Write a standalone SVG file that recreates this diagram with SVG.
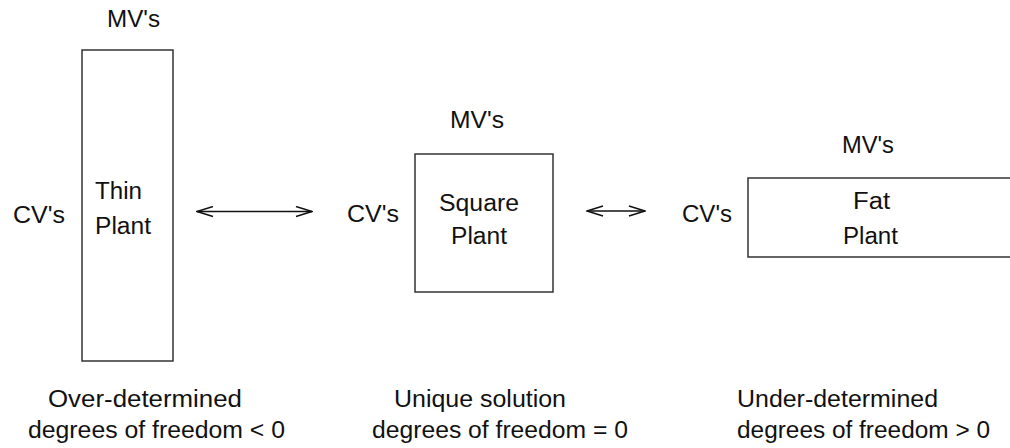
<svg xmlns="http://www.w3.org/2000/svg" width="1010" height="448" viewBox="0 0 1010 448">
<defs>
<style>
text{font-family:"Liberation Sans",Arial,sans-serif;font-size:23px;fill:#111}
.box{fill:#fff;stroke:#333;stroke-width:1.5}
.conn{stroke:#111;stroke-width:1.4;fill:none}
</style>
<marker id="ah" viewBox="0 0 18 12" refX="17" refY="6" markerWidth="18" markerHeight="12" markerUnits="userSpaceOnUse" orient="auto-start-reverse">
<path d="M1,1 L17,6 L1,11" fill="none" stroke="#111" stroke-width="1.5"/>
</marker>
</defs>
<rect width="1010" height="448" fill="#fff"/>
<g id="thin-plant">
<rect class="box" x="82" y="50" width="91" height="311"/>
<text x="107" y="27" textLength="53" lengthAdjust="spacingAndGlyphs">MV's</text>
<text x="13" y="223" textLength="52" lengthAdjust="spacingAndGlyphs">CV's</text>
<text x="95" y="199" textLength="47" lengthAdjust="spacingAndGlyphs">Thin</text>
<text x="95" y="234" textLength="56" lengthAdjust="spacingAndGlyphs">Plant</text>
</g>
<g id="square-plant">
<rect class="box" x="415" y="154" width="138" height="138"/>
<text x="450" y="128" textLength="54" lengthAdjust="spacingAndGlyphs">MV's</text>
<text x="347" y="222" textLength="52" lengthAdjust="spacingAndGlyphs">CV's</text>
<text x="439" y="211" textLength="80" lengthAdjust="spacingAndGlyphs">Square</text>
<text x="451" y="244" textLength="56" lengthAdjust="spacingAndGlyphs">Plant</text>
</g>
<g id="fat-plant">
<path class="box" d="M1012,178 H748 V257 H1012"/>
<text x="842" y="153" textLength="52" lengthAdjust="spacingAndGlyphs">MV's</text>
<text x="682" y="222" textLength="50" lengthAdjust="spacingAndGlyphs">CV's</text>
<text x="853" y="209" textLength="37" lengthAdjust="spacingAndGlyphs">Fat</text>
<text x="843" y="244" textLength="55" lengthAdjust="spacingAndGlyphs">Plant</text>
</g>
<g id="connectors">
<line class="conn" x1="197" y1="211.5" x2="312" y2="211.5" marker-start="url(#ah)" marker-end="url(#ah)"/>
<line class="conn" x1="587" y1="211" x2="645" y2="211" marker-start="url(#ah)" marker-end="url(#ah)"/>
</g>
<g id="captions">
<text x="48" y="407" textLength="194" lengthAdjust="spacingAndGlyphs">Over-determined</text>
<text x="28" y="438" textLength="257" lengthAdjust="spacingAndGlyphs">degrees of freedom &lt; 0</text>
<text x="394" y="407" textLength="172" lengthAdjust="spacingAndGlyphs">Unique solution</text>
<text x="372" y="438" textLength="256" lengthAdjust="spacingAndGlyphs">degrees of freedom = 0</text>
<text x="737" y="407" textLength="201" lengthAdjust="spacingAndGlyphs">Under-determined</text>
<text x="737" y="438" textLength="253" lengthAdjust="spacingAndGlyphs">degrees of freedom &gt; 0</text>
</g>
</svg>
